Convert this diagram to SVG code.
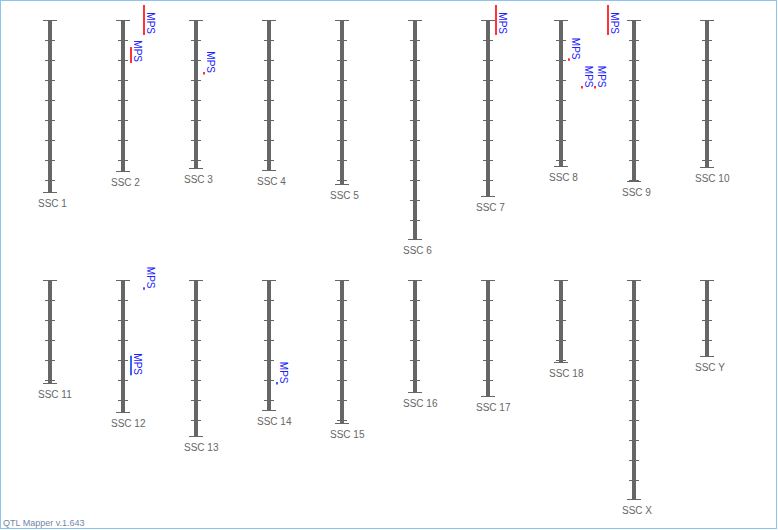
<svg xmlns="http://www.w3.org/2000/svg" width="778" height="530" viewBox="0 0 778 530">
<defs>
<style>
.bar{fill:#666666}
.cap{stroke:#666666;stroke-width:1;fill:none}
.tk{stroke:#666666;stroke-width:10;stroke-dasharray:1 19;fill:none}
.lbl{font-family:"Liberation Sans",Arial,sans-serif;font-size:10px;fill:#666666}
.mr{fill:#ff3333}
.mb{fill:#3366ee}
.mt{font-family:"Liberation Sans",Arial,sans-serif;font-size:10px;fill:#2020ff;text-anchor:end}
.ft{font-family:"Liberation Sans",Arial,sans-serif;font-size:9px;fill:#7088a8}
</style>
</defs>
<rect x="0.5" y="0.5" width="776" height="528" fill="#ffffff" stroke="#8cc4ec" stroke-width="1"/>

<g id="SSC1"><rect class="bar" x="48" y="20" width="4" height="173"/><path class="cap" d="M43 20.5h14M43 192.5h14"/><line class="tk" x1="50" y1="40" x2="50" y2="193"/><text class="lbl" x="38" y="206.5">SSC 1</text></g>
<g id="SSC2"><rect class="bar" x="121" y="20" width="4" height="152"/><path class="cap" d="M116 20.5h14M116 171.5h14"/><line class="tk" x1="123" y1="40" x2="123" y2="172"/><text class="lbl" x="111" y="185.5">SSC 2</text></g>
<g id="SSC3"><rect class="bar" x="194" y="20" width="4" height="149"/><path class="cap" d="M189 20.5h14M189 168.5h14"/><line class="tk" x1="196" y1="40" x2="196" y2="169"/><text class="lbl" x="184" y="182.5">SSC 3</text></g>
<g id="SSC4"><rect class="bar" x="267" y="20" width="4" height="151"/><path class="cap" d="M262 20.5h14M262 170.5h14"/><line class="tk" x1="269" y1="40" x2="269" y2="171"/><text class="lbl" x="257" y="184.5">SSC 4</text></g>
<g id="SSC5"><rect class="bar" x="340" y="20" width="4" height="165"/><path class="cap" d="M335 20.5h14M335 184.5h14"/><line class="tk" x1="342" y1="40" x2="342" y2="185"/><text class="lbl" x="330" y="198.5">SSC 5</text></g>
<g id="SSC6"><rect class="bar" x="413" y="20" width="4" height="220"/><path class="cap" d="M408 20.5h14M408 239.5h14"/><line class="tk" x1="415" y1="40" x2="415" y2="239"/><text class="lbl" x="403" y="253.5">SSC 6</text></g>
<g id="SSC7"><rect class="bar" x="486" y="20" width="4" height="177"/><path class="cap" d="M481 20.5h14M481 196.5h14"/><line class="tk" x1="488" y1="40" x2="488" y2="197"/><text class="lbl" x="476" y="210.5">SSC 7</text></g>
<g id="SSC8"><rect class="bar" x="559" y="20" width="4" height="147"/><path class="cap" d="M554 20.5h14M554 166.5h14"/><line class="tk" x1="561" y1="40" x2="561" y2="167"/><text class="lbl" x="549" y="180.5">SSC 8</text></g>
<g id="SSC9"><rect class="bar" x="632" y="20" width="4" height="162"/><path class="cap" d="M627 20.5h14M627 181.5h14"/><line class="tk" x1="634" y1="40" x2="634" y2="182"/><text class="lbl" x="622" y="195.5">SSC 9</text></g>
<g id="SSC10"><rect class="bar" x="705" y="20" width="4" height="148"/><path class="cap" d="M700 20.5h14M700 167.5h14"/><line class="tk" x1="707" y1="40" x2="707" y2="168"/><text class="lbl" x="695" y="181.5">SSC 10</text></g>

<g id="SSC11"><rect class="bar" x="48" y="280" width="4" height="104"/><path class="cap" d="M43 280.5h14M43 383.5h14"/><line class="tk" x1="50" y1="300" x2="50" y2="384"/><text class="lbl" x="38" y="397.5">SSC 11</text></g>
<g id="SSC12"><rect class="bar" x="121" y="280" width="4" height="133"/><path class="cap" d="M116 280.5h14M116 412.5h14"/><line class="tk" x1="123" y1="300" x2="123" y2="413"/><text class="lbl" x="111" y="426.5">SSC 12</text></g>
<g id="SSC13"><rect class="bar" x="194" y="280" width="4" height="157"/><path class="cap" d="M189 280.5h14M189 436.5h14"/><line class="tk" x1="196" y1="300" x2="196" y2="437"/><text class="lbl" x="184" y="450.5">SSC 13</text></g>
<g id="SSC14"><rect class="bar" x="267" y="280" width="4" height="131"/><path class="cap" d="M262 280.5h14M262 410.5h14"/><line class="tk" x1="269" y1="300" x2="269" y2="411"/><text class="lbl" x="257" y="424.5">SSC 14</text></g>
<g id="SSC15"><rect class="bar" x="340" y="280" width="4" height="144"/><path class="cap" d="M335 280.5h14M335 423.5h14"/><line class="tk" x1="342" y1="300" x2="342" y2="424"/><text class="lbl" x="330" y="437.5">SSC 15</text></g>
<g id="SSC16"><rect class="bar" x="413" y="280" width="4" height="113"/><path class="cap" d="M408 280.5h14M408 392.5h14"/><line class="tk" x1="415" y1="300" x2="415" y2="393"/><text class="lbl" x="403" y="406.5">SSC 16</text></g>
<g id="SSC17"><rect class="bar" x="486" y="280" width="4" height="117"/><path class="cap" d="M481 280.5h14M481 396.5h14"/><line class="tk" x1="488" y1="300" x2="488" y2="397"/><text class="lbl" x="476" y="410.5">SSC 17</text></g>
<g id="SSC18"><rect class="bar" x="559" y="280" width="4" height="83"/><path class="cap" d="M554 280.5h14M554 362.5h14"/><line class="tk" x1="561" y1="300" x2="561" y2="363"/><text class="lbl" x="549" y="376.5">SSC 18</text></g>
<g id="SSCX"><rect class="bar" x="632" y="280" width="4" height="220"/><path class="cap" d="M627 280.5h14M627 499.5h14"/><line class="tk" x1="634" y1="300" x2="634" y2="499"/><text class="lbl" x="622" y="513.5">SSC X</text></g>
<g id="SSCY"><rect class="bar" x="705" y="280" width="4" height="77"/><path class="cap" d="M700 280.5h14M700 356.5h14"/><line class="tk" x1="707" y1="300" x2="707" y2="357"/><text class="lbl" x="695" y="370.5">SSC Y</text></g>

<g id="qtl-markers">
<g id="qtl-ssc2-a"><rect class="mr" x="143" y="5" width="2" height="30"/><text class="mt" transform="translate(146.5,34) rotate(90)">MPS</text></g>
<g id="qtl-ssc2-b"><rect class="mr" x="130" y="47" width="2" height="16"/><text class="mt" transform="translate(133.5,62) rotate(90)">MPS</text></g>
<g id="qtl-ssc3"><rect class="mr" x="203" y="72" width="2" height="2.5"/><text class="mt" transform="translate(206.5,73) rotate(90)">MPS</text></g>
<g id="qtl-ssc7"><rect class="mr" x="495" y="5" width="2" height="30"/><text class="mt" transform="translate(498.5,34) rotate(90)">MPS</text></g>
<g id="qtl-ssc8-a"><rect class="mr" x="568" y="58.3" width="2" height="2.5"/><text class="mt" transform="translate(571.5,59.5) rotate(90)">MPS</text></g>
<g id="qtl-ssc8-b"><rect class="mr" x="581" y="86" width="2" height="2.5"/><text class="mt" transform="translate(584.5,87.5) rotate(90)">MPS</text></g>
<g id="qtl-ssc8-c"><rect class="mr" x="594" y="86" width="2" height="2.5"/><text class="mt" transform="translate(597.5,87.5) rotate(90)">MPS</text></g>
<g id="qtl-ssc9"><rect class="mr" x="607" y="5" width="2" height="30"/><text class="mt" transform="translate(610.5,34) rotate(90)">MPS</text></g>
<g id="qtl-ssc12-a"><rect class="mb" x="143" y="287.3" width="2" height="2.5"/><text class="mt" transform="translate(146.5,288.5) rotate(90)">MPS</text></g>
<g id="qtl-ssc12-b"><rect class="mb" x="130" y="355.7" width="2" height="19.6"/><text class="mt" transform="translate(133.5,375) rotate(90)">MPS</text></g>
<g id="qtl-ssc14"><rect class="mb" x="276" y="382" width="2" height="2.5"/><text class="mt" transform="translate(279.5,383.5) rotate(90)">MPS</text></g>
</g>

<g id="connectors"></g>

<text class="ft" x="3" y="526">QTL Mapper v.1.643</text>
</svg>
